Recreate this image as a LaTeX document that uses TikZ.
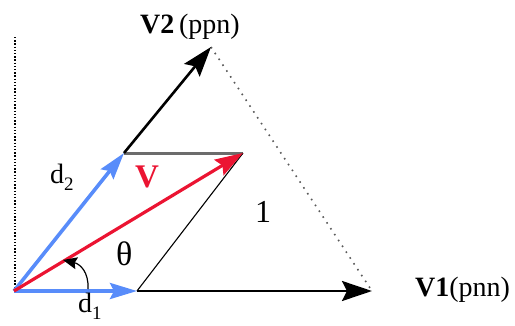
\documentclass[tikz,border=0pt]{standalone}
\usepackage{fontspec}
\setmainfont{Liberation Serif}
\usetikzlibrary{arrows.meta}
\definecolor{vblue}{RGB}{88,140,250}
\definecolor{vred}{RGB}{235,20,50}
\newcommand{\lbl}{\fontsize{28}{30}\selectfont}
\newcommand{\subs}[1]{\raisebox{-0.25em}{\fontsize{19}{19}\selectfont #1}}
\begin{document}
\begin{tikzpicture}[x=1pt,y=-1pt,
  blackvec/.style={line width=2.6pt,-{Stealth[length=30pt,width=20pt,inset=5pt]}},
  bluevec/.style={draw=vblue,line width=3.6pt,-{Stealth[length=27pt,width=16pt,inset=4pt]}},
  redvec/.style={draw=vred,line width=3.2pt,-{Stealth[length=28pt,width=18pt,inset=4pt]}},
  txt/.style={anchor=base west,inner sep=0pt,font=\lbl}]
\useasboundingbox (0,0) rectangle (515,325);
\coordinate (O) at (14,291);
\coordinate (A) at (137,291);
\coordinate (B) at (124,153);
\coordinate (C) at (243,153);
\coordinate (P1) at (372,291);
\coordinate (P2) at (211,47);
\coordinate (T) at (15,37);
\coordinate (Tb) at (15,291);
\coordinate (S) at (88,289);
\coordinate (E) at (63,260);
% dotted guides
\draw[line width=1.6pt,dash pattern=on 1.4pt off 1.8pt] (T) -- (Tb);
\draw[gray!70!black,line width=1.6pt,dash pattern=on 1.6pt off 5.4pt] (P2) -- (P1);
% parallelogram edges
\draw[gray!85!black,line width=3pt] (B) -- (C);
\draw[line width=1.1pt] (C) -- (A);
% black vectors
\draw[blackvec] (A) -- (P1);
\draw[blackvec] (B) -- (P2);
% blue and red vectors
\draw[bluevec] (O) -- (A);
\draw[bluevec] (O) -- (B);
\draw[redvec] (O) -- (C);
% angle arrow
\draw[line width=1.2pt,-{Stealth[length=14pt,width=12pt,inset=2pt]}] (S) .. controls (89,272) and (80,264) .. (E);
% labels
\node[txt] (lv2) at (140,33) {\textbf{V2}\,(ppn)};
\node[txt] (lv1) at (415,296) {\textbf{V1}(pnn)};
\node[txt] (ld2) at (50,183) {d\subs{2}};
\node[txt] (ld1) at (78,312) {d\subs{1}};
\node[txt,text=vred,font=\fontsize{33}{35}\selectfont\bfseries] (lv) at (135,187) {V};
\node[txt,font=\fontsize{34}{36}\selectfont] (lth) at (116,265) {θ};
\node[txt,font=\fontsize{32}{34}\selectfont] (l1) at (255,222) {1};
\end{tikzpicture}
\end{document}
